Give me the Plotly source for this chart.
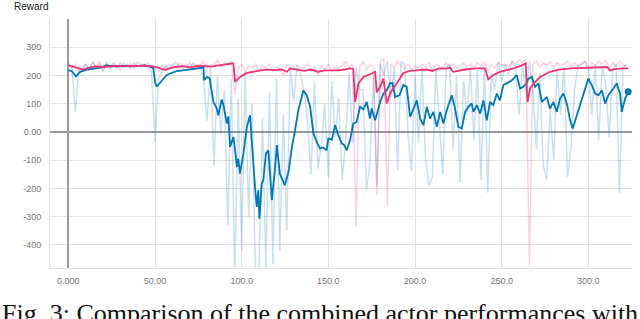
import plotly.graph_objects as go

# ---------------- data ----------------
blue_smooth_x = [0, 2, 4.4, 6.8, 10.6, 14.4, 18, 22, 24, 28, 32, 36, 40, 44, 47, 49, 50, 51, 53, 54.8,
                 56.5, 58.7, 62.5, 66, 70, 74, 78, 78.3, 80, 81.5, 83.7, 85.6, 86.5, 88.5, 89.5, 91.4,
                 92.3, 93.3, 95.2, 96.2, 97.2, 98, 99, 101, 102, 103, 104.8, 105.8, 107.7, 108.7, 109.6,
                 110.2, 111.6, 112.5, 114, 115.4, 117.4, 119.3, 120.3, 122, 124.9, 127, 129, 130.8, 132.7,
                 135.6, 137.5, 139.5, 141.4, 143.3, 145.2, 147, 149, 150, 152, 153.9, 155.8, 157.8, 159,
                 160.6, 162.5, 164.4, 166.3, 168.3, 170.2, 172.2, 174, 175, 177, 179.9, 181.8, 183.7,
                 185.6, 187, 188.5, 191, 193.3, 195.2, 197.2, 199, 201, 203, 204.9, 206.8, 208.7, 210.6,
                 212.6, 214.5, 216.4, 218.3, 221.2, 223.1, 225, 227, 228.9, 230.8, 232.7, 233.7, 235.6,
                 237.6, 239.5, 241.4, 243.3, 245.2, 247.2, 249, 251, 252.9, 255.9, 258.7, 260.6, 262.5,
                 264.4, 265.4, 267.4, 269.3, 271.2, 273.2, 276, 277.9, 279.9, 281.8, 283.7, 285.6, 287.6,
                 289.5, 291, 292.5, 294.3, 297.2, 300, 302, 303.9, 305.8, 307.8, 309.7, 311.6, 314.5,
                 316.4, 318.3, 319.3, 321.2, 323]
blue_smooth_y = [219, 215, 197, 213, 221, 225, 227, 236, 233, 232, 234, 232, 233, 235, 232, 225, 177, 160, 175, 189,
                 200, 207, 215, 218, 221, 224, 228, 183, 195, 190, 106, 84, 59, 115, 95, 30,
                 55, -53, -18, -65, -124, -95, -148, -77, -29, 18, 59, -41, -195, -266, -207,
                 -307, -183, -170, -77, -65, -242, -124, -47, -148, -189, -142, -53, 6, 77,
                 148, 130, 89, -6, -35, -59, -55, -65, -23, -28, 24, -12, -41, -45,
                 -65, -30, 30, 35, 89, 80, 106, 47, 83, 41, 106, 136, 148,
                 172, 174, 124, 130, 166, 160, 53, 80, 112, 47, 24, 89, 47, 71,
                 18, 71, 30, 77, 130, 83, 18, 12, 71, 89, 101, 71, 95,
                 65, 112, 41, 106, 95, 136, 112, 166, 172, 183, 201, 154, 160,
                 172, 189, 195, 160, 172, 106, 124, 83, 106, 71, 118, 136, 101,
                 41, 12, 41, 77, 130, 189, 166, 136, 130, 148, 101, 130, 154,
                 172, 136, 71, 118, 142]

pink_smooth_x = [0, 4, 8.7, 12, 16, 20, 24, 28, 32, 36, 40, 44, 48, 52, 55.8, 58, 62, 66, 70, 74, 78, 82, 86,
                 90, 95.2, 96.2, 99, 103, 107, 111, 115, 119, 123, 126, 128, 132, 136, 140, 144, 148, 152,
                 156, 160, 162.5, 164.4, 165.4, 167.4, 170.2, 175, 177, 177.9, 179.9, 181.8, 183.7, 185.6,
                 188, 191.4, 193.3, 197, 202, 206.8, 210, 214, 218, 220.2, 222, 226, 230, 235, 240.4, 242.3,
                 245, 249, 253, 256.8, 260.6, 263.9, 264.9, 266.4, 269, 272.2, 277.9, 283, 290, 296, 302,
                 306, 310.7, 312.5, 316, 320, 323]
pink_smooth_y = [236, 230, 221, 228, 232, 230, 233, 234, 232, 234, 233, 236, 232, 228, 219, 225, 230, 233, 229, 233,
                 234, 231, 235, 238, 243, 177, 195, 209, 214, 218, 221, 219, 221, 213, 225, 221, 216, 221,
                 213, 218, 219, 218, 222, 225, 222, 106, 172, 195, 207, 213, 140, 160, 189, 101, 136,
                 160, 195, 209, 216, 218, 221, 216, 225, 224, 228, 213, 218, 222, 225, 225, 186,
                 201, 213, 218, 225, 233, 243, 106, 154, 175, 195, 213, 221, 225, 226, 228,
                 229, 230, 218, 223, 225, 225]

raw_x = list(range(0, 323, 2))
blue_raw = [240, 230, 70, 235, 215, 240, 220, 250, 225, 240, 215, 245, 230, 240, 225, 245, 230, 240, 225, 245,
            230, 240, 235, 245, 210, -35, 190, 215, 235, 220, 240, 225, 245, 220, 240, 230, 245, 225, 240, 180,
            40, 230, -120, 200, -10, 150, -330, 190, -520, 120, -420, 210, -300, 100, -520, -480, 50, -490, 140, -470,
            190, -420, 60, -350, 230, 110, 240, 200, 140, 40, -150, 180, -130, -40, 100, -160, 180, -20, 120, -170,
            -30, 210, -40, 230, 150, 150, -205, -110, 200, -195, 240, 200, 250, 120, 230, -135, 250, 240, -10, -140,
            200, -40, 230, -90, -190, -160, 220, 40, -150, 230, 240, -60, 200, -180, 180, 60, 230, -30, 220, -170,
            240, -215, 210, 150, 250, 180, 240, 200, 250, 230, 60, 240, 130, 250, 150, -60, 210, -120, -170, 80,
            -100, 220, 60, 230, -160, -60, 150, 230, 240, 250, 220, 60, 240, -30, 230, 170, -20, 220, 240, -215,
            230, 240]
pink_raw = [245, 225, 240, 215, 230, 240, 220, 245, 230, 250, 215, 240, 225, 245, 235, 220, 245, 230, 240, 225,
            250, 230, 240, 225, 235, 230, 215, 235, 225, 240, 230, 250, 225, 240, 230, 245, 220, 240, 235, 250,
            225, 240, 235, 255, 230, 245, 240, 250, 130, 225, 240, 210, 235, 225, 240, 215, 235, 225, 240, 215,
            230, 225, 200, 240, 220, 235, 215, 230, 225, 240, 215, 230, 200, 235, 220, 240, 215, 230, 225, 235,
            250, 230, 240, -337, 230, 250, 220, 240, 230, -224, 250, 260, -260, 240, 230, 250, 235, 225, 240, 220,
            235, 225, 240, 230, 245, 220, 240, 235, 225, 245, 230, 240, 225, 235, 245, 230, 240, 225, 245, 235,
            250, 215, 240, 225, 245, 235, 240, 230, 250, 240, 255, 245, 260, -473, 240, 250, 230, 245, 235, 250,
            225, 245, 235, 240, 250, 230, 245, 235, 240, 250, 230, 245, 235, 250, 240, 255, 225, 245, 235, 250,
            240, 230]

y_tick_vals = [300, 200, 100, 0, -100, -200, -300, -400]
y_tick_text = ["300", "200", "100", "0.00", "-100", "-200", "-300", "-400"]
x_tick_vals = [0, 50, 100, 150, 200, 250, 300]
x_tick_text = ["0.000", "50.00", "100.0", "150.0", "200.0", "250.0", "300.0"]

y_title = "Reward"
caption = "Fig. 3: Comparison of the combined actor performances with"

BLUE = "#0077bb"
PINK = "#ee3377"

fig = go.Figure()
fig.add_trace(go.Scatter(x=raw_x, y=blue_raw, mode="lines",
                         line=dict(color="rgba(0,119,187,0.22)", width=1.5), hoverinfo="skip"))
fig.add_trace(go.Scatter(x=raw_x, y=pink_raw, mode="lines",
                         line=dict(color="rgba(238,51,119,0.22)", width=1.5), hoverinfo="skip"))
fig.add_trace(go.Scatter(x=blue_smooth_x, y=blue_smooth_y, mode="lines",
                         line=dict(color=BLUE, width=1.8)))
fig.add_trace(go.Scatter(x=pink_smooth_x, y=pink_smooth_y, mode="lines",
                         line=dict(color=PINK, width=1.8)))
fig.add_trace(go.Scatter(x=[blue_smooth_x[-1]], y=[blue_smooth_y[-1]], mode="markers",
                         marker=dict(color=BLUE, size=7), cliponaxis=False))

axis_font = dict(family="Liberation Sans, Arial, sans-serif", size=9, color="#777")
fig.update_layout(
    width=640, height=319,
    margin=dict(l=50, r=8, t=19, b=51),
    paper_bgcolor="white", plot_bgcolor="white",
    showlegend=False,
    xaxis=dict(range=[-10.6, 325.2], tickvals=x_tick_vals, ticktext=x_tick_text,
               tickfont=axis_font, showgrid=True, gridcolor="#e3e3e3", gridwidth=1,
               zeroline=True, zerolinecolor="#9a9a9a", zerolinewidth=1.5, automargin=False,
               showline=True, linecolor="#e3e3e3", linewidth=1, ticks="", ticklabelstandoff=4),
    yaxis=dict(range=[-482, 400], tickvals=y_tick_vals, ticktext=y_tick_text,
               tickfont=axis_font, showgrid=True, gridcolor="#e3e3e3", gridwidth=1,
               zeroline=True, zerolinecolor="#9a9a9a", zerolinewidth=1.5, automargin=False,
               showline=True, linecolor="#e3e3e3", linewidth=1, ticks="", ticklabelstandoff=6),
    annotations=[
        dict(text=y_title, xref="paper", yref="paper", x=-0.0653, y=1.052,
             xanchor="left", yanchor="middle", showarrow=False,
             font=dict(family="Liberation Sans, Arial, sans-serif", size=10, color="#222")),
        dict(text=caption, xref="paper", yref="paper", x=-0.0859, y=-0.115,
             xanchor="left", yanchor="top", showarrow=False,
             font=dict(family="Liberation Serif, Times New Roman, serif", size=26, color="#111")),
    ],
)

fig.write_html(
    "out.html",
    config={"displayModeBar": False},
    post_script="document.body.style.margin='0';document.body.style.overflow='hidden';",
)
